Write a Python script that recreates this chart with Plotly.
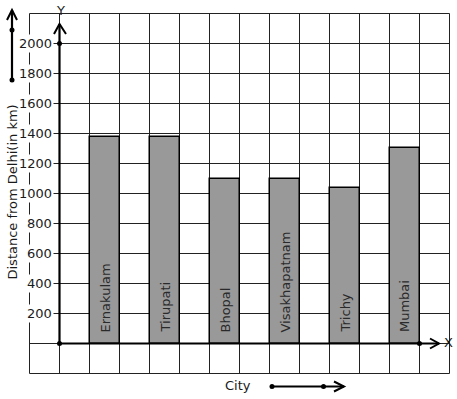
import plotly.graph_objects as go

# ---- data ----
cities = ["Ernakulam", "Tirupati", "Bhopal", "Visakhapatnam", "Trichy", "Mumbai"]
distances = [1375, 1375, 1095, 1095, 1040, 1305]
y_ticks = [200, 400, 600, 800, 1000, 1200, 1400, 1600, 1800, 2000]
y_title = "Distance from Delhi(in km)"
x_title = "City"

W, H = 457, 399
OX, OY = 59.5, 343.5          # pixel position of origin
PX_X = 30.0                   # pixels per x unit
PX_Y = 30.0 / 200.0           # pixels per y unit

def px2x(p):
    return (p - OX) / PX_X

def py2y(p):
    return (OY - p) / PX_Y

FONT = "DejaVu Sans"
INK = "#1a1a1a"

bar_x = [1.5 + 2 * i for i in range(len(cities))]

fig = go.Figure()
fig.add_trace(go.Bar(
    x=bar_x, y=distances, width=1,
    marker=dict(color="#999999", line=dict(color="black", width=1.5)),
    hoverinfo="skip", showlegend=False,
))

shapes = []
# grid
gx0, gx1 = -1, 13
gy0, gy1 = -200, 2200
for gx in range(gx0, gx1 + 1):
    shapes.append(dict(type="line", x0=gx, x1=gx, y0=gy0, y1=gy1, xref="x", yref="y",
                       line=dict(color="#222222", width=1), layer="below"))
for gy in range(gy0, gy1 + 1, 200):
    shapes.append(dict(type="line", x0=gx0, x1=gx1, y0=gy, y1=gy, xref="x", yref="y",
                       line=dict(color="#222222", width=1), layer="below"))

def arrow(p_tail, p_tip, a1, a2):
    """line + open chevron head, all given in pixel coords"""
    out = [dict(type="line", xref="x", yref="y",
                x0=px2x(p_tail[0]), y0=py2y(p_tail[1]), x1=px2x(p_tip[0]), y1=py2y(p_tip[1]),
                line=dict(color="black", width=2.2), layer="above")]
    path = "M{},{} L{},{} L{},{}".format(px2x(a1[0]), py2y(a1[1]), px2x(p_tip[0]), py2y(p_tip[1]),
                                       px2x(a2[0]), py2y(a2[1]))
    out.append(dict(type="path", xref="x", yref="y", path=path,
                    line=dict(color="black", width=2), layer="above"))
    return out

shapes += arrow((OX, OY), (OX, 24), (54, 34), (66, 34))          # y axis
shapes += arrow((OX, OY), (439, OY), (430, 338.5), (430, 348.5))  # x axis
shapes += arrow((12, 80), (12, 10), (7, 20), (17, 20))           # left decoration
shapes += arrow((272, 386.5), (344, 386.5), (334, 381.5), (334, 391.5))  # bottom decoration
fig.update_layout(shapes=shapes)

ann = []
# y tick labels with white background
for t in y_ticks:
    ann.append(dict(x=px2x(54), y=t, xref="x", yref="y", text=str(t), showarrow=False,
                    xanchor="right", yanchor="middle", bgcolor="white", borderpad=1,
                    font=dict(family=FONT, size=13, color=INK)))
# city labels inside bars
for cx, c in zip(bar_x, cities):
    ann.append(dict(x=cx, y=0, xref="x", yref="y", text=c, showarrow=False, textangle=-90,
                    xanchor="center", yanchor="bottom", yshift=9,
                    font=dict(family=FONT, size=13, color="#2a2a2a")))
# axis letters and titles
ann.append(dict(x=px2x(60), y=py2y(10), xref="x", yref="y", text="Y", showarrow=False,
                font=dict(family=FONT, size=13, color=INK)))
ann.append(dict(x=px2x(448), y=py2y(342), xref="x", yref="y", text="X", showarrow=False,
                font=dict(family=FONT, size=13, color=INK)))
ann.append(dict(x=px2x(11.5), y=py2y(192), xref="x", yref="y", text=y_title, showarrow=False,
                textangle=-90, font=dict(family=FONT, size=13, color=INK)))
ann.append(dict(x=px2x(238), y=py2y(385), xref="x", yref="y", text=x_title, showarrow=False,
                font=dict(family=FONT, size=13, color=INK)))
fig.update_layout(annotations=ann)

# dots
dots_x = [0, 0, 12, px2x(12), px2x(12), px2x(272), px2x(323.5)]
dots_y = [0, 2000, 0, py2y(30), py2y(80), py2y(386.5), py2y(386.5)]
fig.add_trace(go.Scatter(x=dots_x, y=dots_y, mode="markers",
                         marker=dict(color="black", size=5), hoverinfo="skip", showlegend=False,
                         cliponaxis=False))

fig.update_layout(
    width=W, height=H, margin=dict(l=0, r=0, t=0, b=0),
    paper_bgcolor="white", plot_bgcolor="white",
    xaxis=dict(range=[px2x(0), px2x(W)], visible=False, fixedrange=True),
    yaxis=dict(range=[py2y(H), py2y(0)], visible=False, fixedrange=True),
    bargap=0, showlegend=False,
)

fig.write_html("out.html")
